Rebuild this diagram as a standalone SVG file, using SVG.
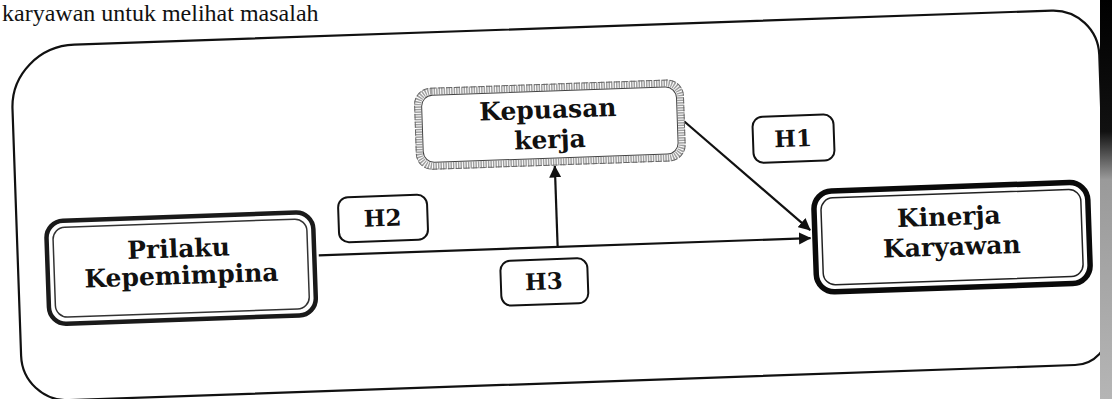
<svg xmlns="http://www.w3.org/2000/svg" width="1112" height="399" viewBox="0 0 1112 399">
  <defs>
    <style>
      .lbl { font-family: "DejaVu Serif", "Liberation Serif", serif; font-weight: bold; font-size: 25px; fill: #111; text-anchor: middle; }
      .hlbl { font-family: "DejaVu Serif", "Liberation Serif", serif; font-weight: bold; font-size: 23px; fill: #111; text-anchor: middle; }
      .hbox { fill: #fff; stroke: #111; stroke-width: 2; }
      .conn { fill: none; stroke: #111; stroke-width: 2.2; }
      .page { font-family: "Liberation Serif", serif; font-size: 24px; fill: #111; }
    </style>
    <marker id="arrow" viewBox="0 0 10 10" refX="9.5" refY="5" markerWidth="5.5" markerHeight="5.5" orient="auto" markerUnits="strokeWidth">
      <path d="M0,0 L10,5 L0,10 Z" fill="#111"/>
    </marker>
    <linearGradient id="margin" x1="0" y1="0" x2="0" y2="1">
      <stop offset="0" stop-color="#000"/>
      <stop offset="0.33" stop-color="#111"/>
      <stop offset="0.45" stop-color="#9a9a9a"/>
      <stop offset="1" stop-color="#b5b5b5"/>
    </linearGradient>
  </defs>
  <rect x="0" y="0" width="1112" height="399" fill="#fff"/>
  <text class="page" x="2" y="21">karyawan untuk melihat masalah</text>
  <g transform="rotate(-2 556 200)">
    <g id="container">
      <path d="M 80,28 L 1058,28 A 46,46 0 0 1 1104,74 L 1104,348 A 35,35 0 0 1 1069,383 L 62,383 A 46,46 0 0 1 16,337 L 16,90 A 64,62 0 0 1 80,28 Z" fill="none" stroke="#111" stroke-width="2.2"/>
    </g>
    <g id="connectors">
      <line class="conn" x1="317" y1="247" x2="809" y2="247" marker-end="url(#arrow)"/>
      <line class="conn" x1="556" y1="247" x2="556" y2="166" marker-end="url(#arrow)"/>
      <line class="conn" x1="687" y1="126" x2="809" y2="239" marker-end="url(#arrow)"/>
    </g>
    <g id="node-kepuasan">
      <rect x="421" y="87" width="263" height="75" rx="14" fill="#fff" stroke="#a0a0a0" stroke-width="7" stroke-dasharray="1.5 1"/>
      <rect x="418" y="84" width="269" height="81" rx="16" fill="none" stroke="#666" stroke-width="1" stroke-dasharray="6 2"/>
      <rect x="425" y="91" width="255" height="67" rx="11" fill="none" stroke="#444" stroke-width="1"/>
      <text class="lbl" x="551" y="118">Kepuasan</text>
      <text class="lbl" x="552" y="148">kerja</text>
    </g>
    <g id="node-prilaku">
      <rect x="45.5" y="203.5" width="267" height="103" rx="17" fill="#fff" stroke="#1a1a1a" stroke-width="4.5"/>
      <rect x="52" y="210" width="254" height="90" rx="12" fill="none" stroke="#333" stroke-width="1.5"/>
      <text class="lbl" x="177" y="244">Prilaku</text>
      <text class="lbl" x="179" y="271">Kepemimpina</text>
    </g>
    <g id="node-kinerja">
      <rect x="813.5" y="200.5" width="274" height="101" rx="18" fill="#fff" stroke="#0a0a0a" stroke-width="5.5"/>
      <rect x="820.5" y="207.5" width="260" height="87" rx="12" fill="none" stroke="#222" stroke-width="1.5"/>
      <text class="lbl" x="948" y="239">Kinerja</text>
      <text class="lbl" x="950" y="269">Karyawan</text>
    </g>
    <g id="label-h1">
      <rect class="hbox" x="755" y="124" width="81" height="46" rx="10"/>
      <text class="hlbl" x="795" y="155">H1</text>
    </g>
    <g id="label-h2">
      <rect class="hbox" x="338" y="190" width="89" height="45" rx="10"/>
      <text class="hlbl" x="382" y="220">H2</text>
    </g>
    <g id="label-h3">
      <rect class="hbox" x="498" y="259" width="87" height="45" rx="10"/>
      <text class="hlbl" x="541" y="289">H3</text>
    </g>
  </g>
  <rect x="1100" y="0" width="12" height="399" fill="url(#margin)"/>
</svg>
